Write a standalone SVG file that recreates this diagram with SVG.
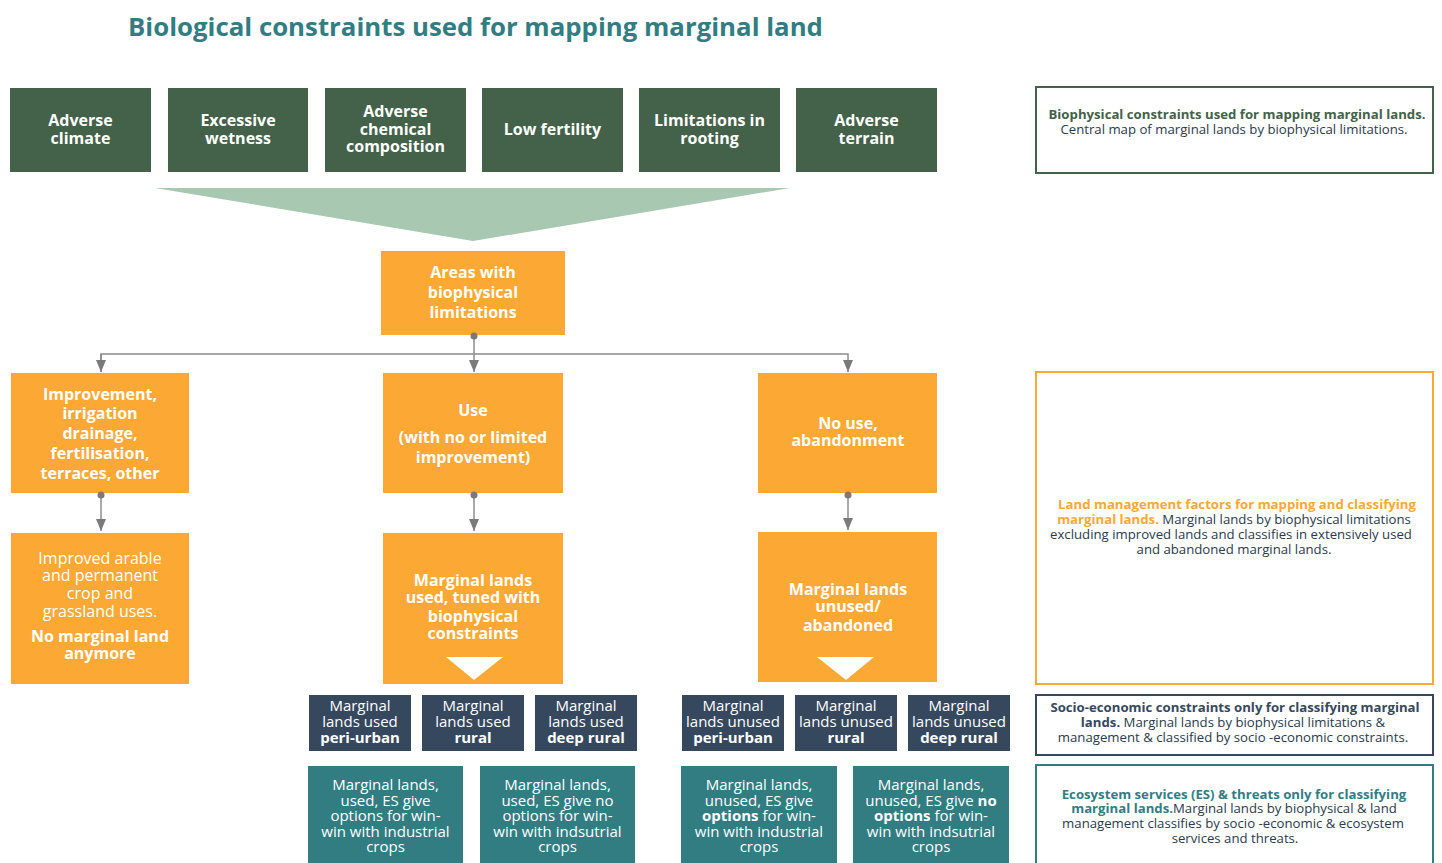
<svg xmlns="http://www.w3.org/2000/svg" width="1442" height="863" viewBox="0 0 1442 863">
<style>
text{font-family:"Open Sans","Liberation Sans",sans-serif;text-anchor:middle}
.title{font-size:25.8px;font-weight:700;fill:#327d82;text-anchor:start}
.dg{fill:#44614a}
.or{fill:#fca834}
.nv{fill:#36485e}
.tl{fill:#327d82}
.wb{font-size:16px;font-weight:700;fill:#fff}
.wn{font-size:16px;font-weight:400;fill:#fff}
.ws{font-size:15px;font-weight:400;fill:#fff}
.b{font-weight:700}
.rt{font-size:13.2px;fill:#2b3a4a}
.hg{font-weight:700;fill:#44614a}
.ho{font-weight:700;fill:#fca834}
.hn{font-weight:700;fill:#36485e}
.ht{font-weight:700;fill:#327d82}
.conn{stroke:#8c8c8c;stroke-width:1.5;fill:none}
.dot{fill:#7a7a7a}
</style>
<defs>
<marker id="ah" markerUnits="userSpaceOnUse" markerWidth="12" markerHeight="10" refX="12" refY="5" orient="auto">
<path d="M0,0 L12,5 L0,10 z" fill="#7a7a7a"/>
</marker>
</defs>
<text class="title" x="128" y="36">Biological constraints used for mapping marginal land</text>

<g id="funnel"><polygon points="155,188 790,188 473,241" fill="#a9c8b1"/></g>

<g id="n-climate"><rect class="dg" x="10" y="88" width="141" height="84"/><text class="wb"><tspan x="80.5" y="126">Adverse</tspan><tspan x="80.5" y="144">climate</tspan></text></g>
<g id="n-wetness"><rect class="dg" x="168" y="88" width="140" height="84"/><text class="wb"><tspan x="238" y="126">Excessive</tspan><tspan x="238" y="144">wetness</tspan></text></g>
<g id="n-chemical"><rect class="dg" x="325" y="88" width="141" height="84"/><text class="wb"><tspan x="395.5" y="117">Adverse</tspan><tspan x="395.5" y="134.5">chemical</tspan><tspan x="395.5" y="152">composition</tspan></text></g>
<g id="n-fertility"><rect class="dg" x="482" y="88" width="141" height="84"/><text class="wb" x="552.5" y="135">Low fertility</text></g>
<g id="n-rooting"><rect class="dg" x="639" y="88" width="141" height="84"/><text class="wb"><tspan x="709.5" y="126">Limitations in</tspan><tspan x="709.5" y="144">rooting</tspan></text></g>
<g id="n-terrain"><rect class="dg" x="796" y="88" width="141" height="84"/><text class="wb"><tspan x="866.5" y="126">Adverse</tspan><tspan x="866.5" y="144">terrain</tspan></text></g>

<g id="n-areas"><rect class="or" x="381" y="251" width="184" height="84"/><text class="wb"><tspan x="473" y="278">Areas with</tspan><tspan x="473" y="298">biophysical</tspan><tspan x="473" y="318">limitations</tspan></text></g>

<g id="n-improvement"><rect class="or" x="11" y="373" width="178" height="120"/>
<text class="wb"><tspan x="100" y="400">Improvement,</tspan><tspan x="100" y="419">irrigation</tspan><tspan x="100" y="439">drainage,</tspan><tspan x="100" y="459">fertilisation,</tspan><tspan x="100" y="479">terraces, other</tspan></text></g>
<g id="n-use"><rect class="or" x="383" y="373" width="180" height="120"/>
<text class="wb"><tspan x="473" y="416">Use</tspan><tspan x="473" y="443">(with no or limited</tspan><tspan x="473" y="463">improvement)</tspan></text></g>
<g id="n-nouse"><rect class="or" x="758" y="373" width="179" height="120"/>
<text class="wb"><tspan x="848" y="429">No use,</tspan><tspan x="848" y="446">abandonment</tspan></text></g>

<g id="n-improved"><rect class="or" x="11" y="533" width="178" height="151"/>
<text class="wn"><tspan x="100" y="564">Improved arable</tspan><tspan x="100" y="581">and permanent</tspan><tspan x="100" y="599">crop and</tspan><tspan x="100" y="617">grassland uses.</tspan><tspan class="b" x="100" y="642">No marginal land</tspan><tspan class="b" x="100" y="659">anymore</tspan></text></g>
<g id="n-used"><rect class="or" x="383" y="533" width="180" height="151"/>
<text class="wb"><tspan x="473" y="586">Marginal lands</tspan><tspan x="473" y="603">used, tuned with</tspan><tspan x="473" y="622">biophysical</tspan><tspan x="473" y="639">constraints</tspan></text>
<polygon points="446,657 503,657 474,680" fill="#fff"/></g>
<g id="n-unused"><rect class="or" x="758" y="532" width="179" height="150"/>
<text class="wb"><tspan x="848" y="595">Marginal lands</tspan><tspan x="848" y="612">unused/</tspan><tspan x="848" y="631">abandoned</tspan></text>
<polygon points="817,657 874,657 846,680" fill="#fff"/></g>

<g id="n-used-peri"><rect class="nv" x="309" y="695" width="102" height="56"/><text class="ws"><tspan x="360" y="711">Marginal</tspan><tspan x="360" y="727">lands used</tspan><tspan class="b" x="360" y="743">peri-urban</tspan></text></g>
<g id="n-used-rural"><rect class="nv" x="422" y="695" width="102" height="56"/><text class="ws"><tspan x="473" y="711">Marginal</tspan><tspan x="473" y="727">lands used</tspan><tspan class="b" x="473" y="743">rural</tspan></text></g>
<g id="n-used-deep"><rect class="nv" x="535" y="695" width="102" height="56"/><text class="ws"><tspan x="586" y="711">Marginal</tspan><tspan x="586" y="727">lands used</tspan><tspan class="b" x="586" y="743">deep rural</tspan></text></g>
<g id="n-unused-peri"><rect class="nv" x="682" y="695" width="102" height="56"/><text class="ws"><tspan x="733" y="711">Marginal</tspan><tspan x="733" y="727">lands unused</tspan><tspan class="b" x="733" y="743">peri-urban</tspan></text></g>
<g id="n-unused-rural"><rect class="nv" x="795" y="695" width="102" height="56"/><text class="ws"><tspan x="846" y="711">Marginal</tspan><tspan x="846" y="727">lands unused</tspan><tspan class="b" x="846" y="743">rural</tspan></text></g>
<g id="n-unused-deep"><rect class="nv" x="908" y="695" width="102" height="56"/><text class="ws"><tspan x="959" y="711">Marginal</tspan><tspan x="959" y="727">lands unused</tspan><tspan class="b" x="959" y="743">deep rural</tspan></text></g>

<g id="n-es1"><rect class="tl" x="308" y="766" width="155" height="97"/>
<text class="ws"><tspan x="385.5" y="790">Marginal lands,</tspan><tspan x="385.5" y="806">used, ES give</tspan><tspan x="385.5" y="821">options for win-</tspan><tspan x="385.5" y="837">win with industrial</tspan><tspan x="385.5" y="852">crops</tspan></text></g>
<g id="n-es2"><rect class="tl" x="480" y="766" width="155" height="97"/>
<text class="ws"><tspan x="557.5" y="790">Marginal lands,</tspan><tspan x="557.5" y="806">used, ES give no</tspan><tspan x="557.5" y="821">options for win-</tspan><tspan x="557.5" y="837">win with indsutrial</tspan><tspan x="557.5" y="852">crops</tspan></text></g>
<g id="n-es3"><rect class="tl" x="681" y="766" width="156" height="97"/>
<text class="ws"><tspan x="759" y="790">Marginal lands,</tspan><tspan x="759" y="806">unused, ES give</tspan><tspan x="759" y="821"><tspan class="b">options</tspan> for win-</tspan><tspan x="759" y="837">win with industrial</tspan><tspan x="759" y="852">crops</tspan></text></g>
<g id="n-es4"><rect class="tl" x="853" y="766" width="156" height="97"/>
<text class="ws"><tspan x="931" y="790">Marginal lands,</tspan><tspan x="931" y="806">unused, ES give <tspan class="b">no</tspan></tspan><tspan x="931" y="821"><tspan class="b">options</tspan> for win-</tspan><tspan x="931" y="837">win with indsutrial</tspan><tspan x="931" y="852">crops</tspan></text></g>

<g id="legend-biophysical"><rect x="1036" y="87" width="397" height="86" fill="#fff" stroke="#44614a" stroke-width="2"/>
<text class="rt"><tspan class="hg" x="1237" y="119">Biophysical constraints used for mapping marginal lands.</tspan><tspan x="1234" y="134">Central map of marginal lands by biophysical limitations.</tspan></text></g>
<g id="legend-management"><rect x="1036" y="372" width="397" height="312" fill="#fff" stroke="#fca834" stroke-width="2"/>
<text class="rt"><tspan class="ho" x="1237" y="509">Land management factors for mapping and classifying</tspan><tspan x="1234" y="524"><tspan class="ho">marginal lands.</tspan> Marginal lands by biophysical limitations</tspan><tspan x="1231" y="539">excluding improved lands and classifies in extensively used</tspan><tspan x="1234" y="554">and abandoned marginal lands.</tspan></text></g>
<g id="legend-socio"><rect x="1036" y="695" width="397" height="60" fill="#fff" stroke="#36485e" stroke-width="2"/>
<text class="rt"><tspan class="hn" x="1235" y="712">Socio-economic constraints only for classifying marginal</tspan><tspan x="1233" y="727"><tspan class="hn">lands.</tspan> Marginal lands by biophysical limitations &amp;</tspan><tspan x="1233" y="742">management &amp; classified by socio -economic constraints.</tspan></text></g>
<g id="legend-es"><rect x="1036" y="765" width="397" height="110" fill="#fff" stroke="#327d82" stroke-width="2"/>
<text class="rt"><tspan class="ht" x="1234" y="799">Ecosystem services (ES) &amp; threats only for classifying</tspan><tspan x="1234" y="813"><tspan class="ht">marginal lands.</tspan>Marginal lands by biophysical &amp; land</tspan><tspan x="1233" y="828">management classifies by socio -economic &amp; ecosystem</tspan><tspan x="1235" y="843">services and threats.</tspan></text></g>

<g id="connectors">
<path class="conn" d="M474,336 V372" marker-end="url(#ah)"/>
<path class="conn" d="M101,372 V354 H848 V372" marker-end="url(#ah)"/>
<path class="conn" d="M101,354 V372" marker-end="url(#ah)"/>
<path class="conn" d="M101,495 V531" marker-end="url(#ah)"/>
<path class="conn" d="M474,495 V531" marker-end="url(#ah)"/>
<path class="conn" d="M848,495 V530" marker-end="url(#ah)"/>
<circle class="dot" cx="474" cy="336" r="3.5"/>
<circle class="dot" cx="101" cy="495" r="3.5"/>
<circle class="dot" cx="474" cy="495" r="3.5"/>
<circle class="dot" cx="848" cy="495" r="3.5"/>
</g>
</svg>
